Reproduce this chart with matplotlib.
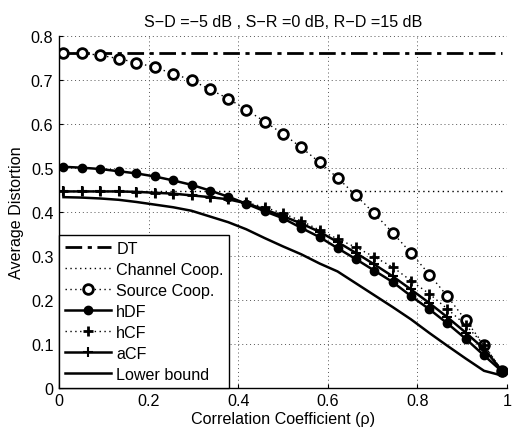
import matplotlib
matplotlib.use("Agg")
import matplotlib.pyplot as plt
from matplotlib.ticker import FixedLocator, FixedFormatter

plt.rcParams['font.family'] = ['Liberation Sans', 'DejaVu Sans']

rho = [0.01, 0.051, 0.092, 0.133, 0.173, 0.214, 0.255, 0.296, 0.337, 0.378,
       0.418, 0.459, 0.5, 0.541, 0.582, 0.622, 0.663, 0.704, 0.745, 0.786,
       0.827, 0.867, 0.908, 0.949, 0.99]

dt = [0.760] * 25
channel_coop = [0.446] * 25
source_coop = [0.760, 0.760, 0.756, 0.748, 0.739, 0.728, 0.714, 0.699, 0.678, 0.657,
               0.632, 0.605, 0.577, 0.546, 0.512, 0.477, 0.437, 0.396, 0.352, 0.306,
               0.257, 0.208, 0.153, 0.097, 0.037]
hdf = [0.502, 0.500, 0.497, 0.492, 0.487, 0.480, 0.471, 0.461, 0.448, 0.434,
       0.418, 0.401, 0.385, 0.363, 0.342, 0.317, 0.292, 0.266, 0.240, 0.208,
       0.178, 0.146, 0.111, 0.073, 0.036]
hcf = [0.446, 0.446, 0.446, 0.446, 0.445, 0.443, 0.441, 0.437, 0.433, 0.429,
       0.421, 0.410, 0.396, 0.379, 0.358, 0.338, 0.319, 0.297, 0.274, 0.243,
       0.213, 0.179, 0.142, 0.097, 0.037]
acf = [0.446, 0.446, 0.446, 0.446, 0.445, 0.443, 0.441, 0.437, 0.433, 0.428,
       0.419, 0.405, 0.390, 0.373, 0.354, 0.331, 0.306, 0.280, 0.253, 0.223,
       0.192, 0.160, 0.125, 0.088, 0.037]
lower_bound = [0.433, 0.432, 0.430, 0.427, 0.422, 0.416, 0.410, 0.402, 0.389, 0.376,
               0.360, 0.340, 0.321, 0.303, 0.282, 0.264, 0.237, 0.210, 0.183, 0.155,
               0.124, 0.095, 0.066, 0.038, 0.027]

xticks = [0, 0.2, 0.4, 0.6, 0.8, 1]
xticklabels = ["0", "0.2", "0.4", "0.6", "0.8", "1"]
yticks = [0, 0.1, 0.2, 0.3, 0.4, 0.5, 0.6, 0.7, 0.8]
yticklabels = ["0", "0.1", "0.2", "0.3", "0.4", "0.5", "0.6", "0.7", "0.8"]

title = "S\u2212D =\u22125 dB , S\u2212R =0 dB, R\u2212D =15 dB"
xlabel = "Correlation Coefficient (\u03c1)"
ylabel = "Average Distortion"

fs = 11.6
fig = plt.figure(figsize=(5.13, 4.31), dpi=100)
ax = fig.add_axes([0.115, 0.0986, 0.873, 0.816])

ax.plot(rho, dt, color='k', linestyle=(0, (6, 2, 1.5, 2)), lw=2.0, label='DT')
ax.plot(rho, channel_coop, color='k', linestyle=(0, (1, 2.5)), lw=1.0, label='Channel Coop.')
ax.plot(rho, source_coop, color='k', linestyle=(0, (1, 2.5)), lw=1.0, marker='o',
        ms=7, mfc='white', mec='k', mew=2.0, label='Source Coop.')
ax.plot(rho, hdf, color='k', linestyle='-', lw=1.8, marker='o', ms=6, mfc='k', mec='k',
        label='hDF')
ax.plot(rho, hcf, color='k', linestyle=(0, (1, 2.5)), lw=1.0, marker='+', ms=7.5, mew=2.0,
        label='hCF')
ax.plot(rho, acf, color='k', linestyle='-', lw=1.8, marker='+', ms=7.5, mew=1.5,
        label='aCF')
ax.plot(rho, lower_bound, color='k', linestyle='-', lw=1.8, label='Lower bound')

ax.set_xlim(0, 1)
ax.set_ylim(0, 0.8)
ax.xaxis.set_major_locator(FixedLocator(xticks))
ax.xaxis.set_major_formatter(FixedFormatter(xticklabels))
ax.yaxis.set_major_locator(FixedLocator(yticks))
ax.yaxis.set_major_formatter(FixedFormatter(yticklabels))
ax.tick_params(direction='in', length=3, width=0.8, labelsize=fs, pad=4,
               top=False, right=False)
ax.grid(True, color='#555555', linestyle=(0, (1, 3)), lw=0.7)
for s in ['top', 'right']:
    ax.spines[s].set_visible(False)
for s in ['left', 'bottom']:
    ax.spines[s].set_linewidth(1.0)

ax.set_title(title, fontsize=fs, pad=7)
ax.set_xlabel(xlabel, fontsize=fs, labelpad=2)
ax.set_ylabel(ylabel, fontsize=fs, labelpad=5)

leg = ax.legend(loc='lower left', fontsize=fs, borderaxespad=0, frameon=True,
                fancybox=False, handlelength=2.9, handletextpad=0.3,
                labelspacing=0.37, borderpad=0.35)
leg.get_frame().set_edgecolor('k')
leg.get_frame().set_linewidth(1.0)
leg.get_frame().set_alpha(1.0)

fig.savefig("out.png", dpi=100)
